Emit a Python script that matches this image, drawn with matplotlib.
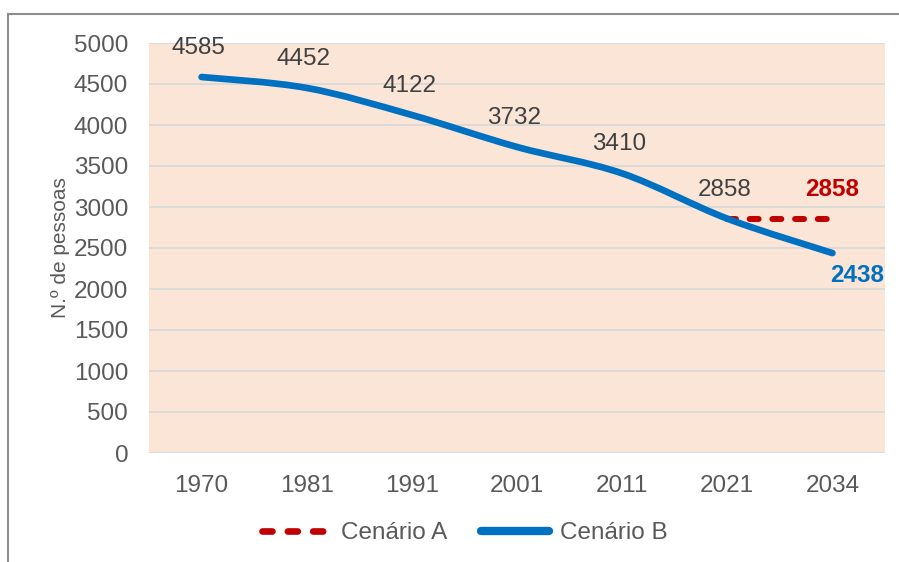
import numpy as np
import matplotlib
matplotlib.use("Agg")
import matplotlib.pyplot as plt
from matplotlib.path import Path
from matplotlib.patches import PathPatch
from matplotlib.lines import Line2D

plt.rcParams["font.family"] = ["Liberation Sans", "DejaVu Sans"]

# ---------------------------------------------------------------------------
# Data
# ---------------------------------------------------------------------------
years = ["1970", "1981", "1991", "2001", "2011", "2021", "2034"]
cenario_b = [4585, 4452, 4122, 3732, 3410, 2858, 2438]
cenario_a_years = ["2021", "2034"]
cenario_a = [2858, 2858]

BLUE = "#0070c0"
RED = "#c00000"
GREY_TXT = "#404040"
TICK_TXT = "#595959"
FS = 17.5
DASH = (0, (1.5, 2.3))


def smooth_path(xs, ys):
    """Excel-like smoothed line: Catmull-Rom segments as cubic Beziers."""
    pts = np.column_stack([xs, ys]).astype(float)
    n = len(pts)
    verts = [pts[0]]
    codes = [Path.MOVETO]
    for i in range(n - 1):
        p0 = pts[i - 1] if i > 0 else pts[i]
        p1 = pts[i]
        p2 = pts[i + 1]
        p3 = pts[i + 2] if i + 2 < n else pts[i + 1]
        c1 = p1 + (p2 - p0) / 6.0
        c2 = p2 - (p3 - p1) / 6.0
        verts += [c1, c2, p2]
        codes += [Path.CURVE4] * 3
    return Path(verts, codes)


fig = plt.figure(figsize=(8.99, 5.62), dpi=100)
ax = fig.add_axes([149 / 899, 1 - 453 / 562, (885 - 149) / 899, (453 - 43) / 562])
ax.set_facecolor("#fbe5d6")

x = np.arange(len(years))
xa = [years.index(y) for y in cenario_a_years]

ax.set_xlim(-0.5, len(years) - 0.5)
ax.set_ylim(0, 5000)
ax.set_yticks(np.arange(0, 5001, 500))
ax.set_xticks(x)
ax.set_xticklabels(years)
ax.grid(axis="y", color="#d9d9d9", linewidth=1.3)
ax.set_axisbelow(True)
for s in ax.spines.values():
    s.set_visible(False)
ax.tick_params(length=0, labelsize=FS, colors=TICK_TXT)
ax.tick_params(axis="y", pad=15)
ax.tick_params(axis="x", pad=16)
ax.set_ylabel("N.º de pessoas", fontsize=15, color=TICK_TXT, labelpad=2.5)

# Cenário A (dashed)
ax.plot(xa, cenario_a, color=RED, linewidth=4.3, linestyle=DASH,
        dash_capstyle="round", zorder=3)

# Cenário B (smoothed)
ax.add_patch(PathPatch(smooth_path(x, cenario_b), facecolor="none",
                       edgecolor=BLUE, linewidth=4.8, capstyle="round",
                       zorder=4))

# data labels
for xi, v in zip(x[:-1], cenario_b[:-1]):
    ax.annotate(str(v), (xi, v), xytext=(-2, 13), textcoords="offset points",
                ha="center", va="bottom", fontsize=FS, color=GREY_TXT)
ax.annotate(str(cenario_b[-1]), (x[-1], cenario_b[-1]), xytext=(18, -8),
            textcoords="offset points", ha="center", va="top", fontsize=FS,
            color=BLUE, fontweight="bold")
ax.annotate(str(cenario_a[-1]), (xa[-1], cenario_a[-1]), xytext=(0, 13),
            textcoords="offset points", ha="center", va="bottom", fontsize=FS,
            color=RED, fontweight="bold")

handles = [
    Line2D([], [], color=RED, linewidth=4.8, linestyle=DASH,
           dash_capstyle="round"),
    Line2D([], [], color=BLUE, linewidth=6, solid_capstyle="round"),
]
leg = fig.legend(handles, ["Cenário A", "Cenário B"], loc="center",
                 bbox_to_anchor=(465 / 899, 1 - 533 / 562), ncol=2,
                 frameon=False, fontsize=FS, handlelength=2.8,
                 handletextpad=0.45, columnspacing=1.4)
for t in leg.get_texts():
    t.set_color(TICK_TXT)

# outer chart frame
fig.add_artist(Line2D([8 / 899, 1], [1 - 14 / 562] * 2, color="#8c8c8c",
                      linewidth=1.5, transform=fig.transFigure))
fig.add_artist(Line2D([8 / 899] * 2, [0, 1 - 14 / 562], color="#8c8c8c",
                      linewidth=1.5, transform=fig.transFigure))

fig.savefig("out.png", dpi=100)
